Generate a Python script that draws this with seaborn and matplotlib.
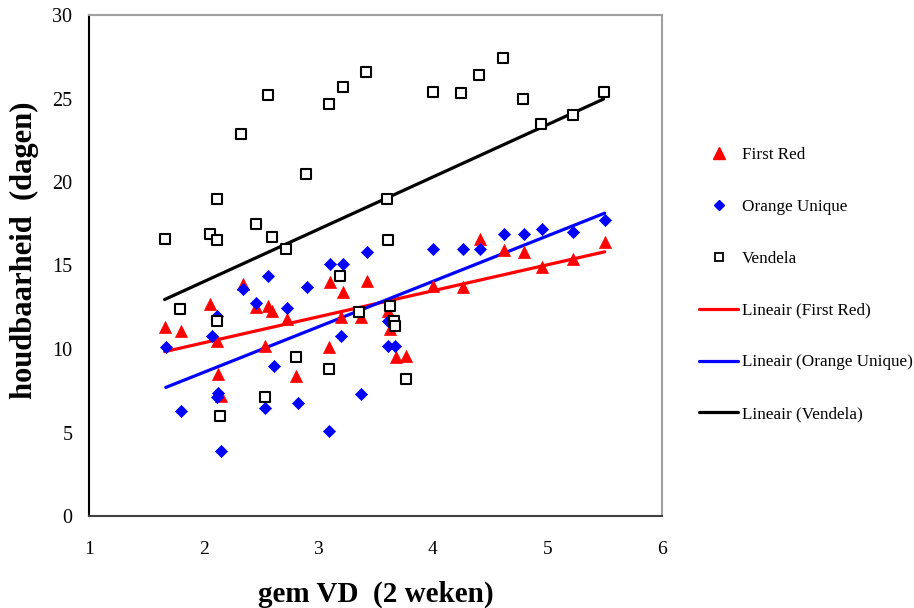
import matplotlib
matplotlib.use("Agg")
import matplotlib.pyplot as plt
import seaborn as sns
import pandas as pd
from matplotlib.lines import Line2D

# ---- data ----
fr_x = [1.66, 1.80, 2.06, 2.12, 2.13, 2.15, 2.34, 2.46, 2.54, 2.56, 2.60, 2.73, 2.81,
        3.09, 3.10, 3.20, 3.22, 3.37, 3.43, 3.61, 3.63, 3.68, 3.77, 4.00, 4.26, 4.41,
        4.62, 4.80, 4.95, 5.22, 5.50]
fr_y = [11.3, 11.1, 12.7, 10.5, 8.5, 7.2, 13.9, 12.5, 10.2, 12.6, 12.3, 11.8, 8.4,
        10.1, 14.0, 11.9, 13.4, 11.9, 14.1, 12.3, 11.2, 9.5, 9.6, 13.8, 13.7, 16.6,
        15.9, 15.8, 14.9, 15.4, 16.4]

ou_x = [1.67, 1.80, 2.07, 2.12, 2.12, 2.13, 2.15, 2.34, 2.46, 2.54, 2.56, 2.61, 2.73,
        2.82, 2.90, 3.09, 3.10, 3.20, 3.22, 3.37, 3.43, 3.61, 3.61, 3.67, 4.00, 4.26,
        4.41, 4.62, 4.80, 4.95, 5.22, 5.50]
ou_y = [10.1, 6.3, 10.8, 12.0, 7.1, 7.35, 3.9, 13.6, 12.75, 6.45, 14.4, 9.0, 12.45,
        6.75, 13.7, 5.1, 15.1, 10.8, 15.1, 7.3, 15.8, 11.7, 10.2, 10.2, 16.0, 16.0,
        16.0, 16.9, 16.9, 17.2, 17.0, 17.7]

ve_x = [1.66, 1.79, 2.06, 2.12, 2.12, 2.12, 2.14, 2.33, 2.46, 2.54, 2.56, 2.60, 2.72,
        2.81, 2.89, 3.09, 3.09, 3.19, 3.22, 3.36, 3.42, 3.60, 3.61, 3.63, 3.66, 3.67,
        3.77, 4.00, 4.25, 4.40, 4.61, 4.79, 4.94, 5.22, 5.49]
ve_y = [16.6, 12.4, 16.9, 19.0, 16.5, 11.7, 6.0, 22.9, 17.5, 7.1, 25.2, 16.7, 16.0,
        9.5, 20.5, 8.8, 24.7, 14.4, 25.7, 12.2, 26.6, 19.0, 16.5, 12.6, 11.7, 11.4,
        8.2, 25.4, 25.3, 26.4, 27.4, 25.0, 23.5, 24.0, 25.4]

series_names = ["First Red", "Orange Unique", "Vendela"]
trend_names = ["Lineair (First Red)", "Lineair (Orange Unique)", "Lineair (Vendela)"]
x_ticks = [1, 2, 3, 4, 5, 6]
y_ticks = [0, 5, 10, 15, 20, 25, 30]

sns.set_theme(style="white")
plt.rcParams["font.family"] = ["Liberation Serif", "DejaVu Serif"]
plt.rcParams["text.color"] = "black"
plt.rcParams["axes.labelcolor"] = "black"

fig = plt.figure(figsize=(9.14, 6.08), dpi=100)
ax = fig.add_axes([89 / 914, 1 - 516 / 608, (662 - 89) / 914, (516 - 15) / 608])

df_fr = pd.DataFrame({"x": fr_x, "y": fr_y})
df_ou = pd.DataFrame({"x": ou_x, "y": ou_y})
df_ve = pd.DataFrame({"x": ve_x, "y": ve_y})

red, blue, black = "#ff0000", "#0000ff", "#000000"
lw = 2.3

# trend lines
sns.regplot(data=df_fr, x="x", y="y", scatter=False, ci=None, ax=ax,
            line_kws=dict(color=red, lw=lw, zorder=2))
sns.regplot(data=df_ou, x="x", y="y", scatter=False, ci=None, ax=ax,
            line_kws=dict(color=blue, lw=lw, zorder=2))
sns.regplot(data=df_ve, x="x", y="y", scatter=False, ci=None, ax=ax,
            line_kws=dict(color=black, lw=lw, zorder=2))

# markers
sns.scatterplot(data=df_fr, x="x", y="y", ax=ax, marker="^", s=75, color=red,
                edgecolor=red, linewidth=0.5, zorder=3)
sns.scatterplot(data=df_ou, x="x", y="y", ax=ax, marker="D", s=38, color=blue,
                edgecolor=blue, linewidth=0.5, zorder=4)
sns.scatterplot(data=df_ve, x="x", y="y", ax=ax, marker="s", s=50, color="white",
                edgecolor="black", linewidth=1.5, zorder=5)

ax.set_xlim(1, 6)
ax.set_ylim(0, 30)
ax.set_xticks(x_ticks)
ax.set_yticks(y_ticks)
ax.set_xticklabels([str(t) for t in x_ticks], fontsize=14)
ax.set_yticklabels([str(t) for t in y_ticks], fontsize=14.5)
ax.tick_params(axis="both", direction="out", length=4, width=1, colors="#404040",
               labelcolor="black", pad=6)
ax.tick_params(axis="x", pad=14)
ax.tick_params(axis="y", colors="black", labelcolor="black", pad=8)

for side, col in [("left", "black"), ("bottom", "#404040"),
                  ("top", "#a0a0a0"), ("right", "#a0a0a0")]:
    ax.spines[side].set_visible(True)
    ax.spines[side].set_color(col)
    ax.spines[side].set_linewidth(1.5)

ax.set_xlabel("gem VD  (2 weken)", fontsize=21, fontweight="bold", labelpad=16,
              color="black")
ax.set_ylabel("houdbaarheid  (dagen)", fontsize=22, fontweight="bold", labelpad=8,
              color="black")
ax.yaxis.set_label_coords(-0.087, (516 - 250) / 501)
ax.grid(False)

handles = [
    Line2D([], [], ls="none", marker="^", color=red, markersize=8),
    Line2D([], [], ls="none", marker="D", color=blue, markersize=5.5),
    Line2D([], [], ls="none", marker="s", markerfacecolor="white",
           markeredgecolor="black", markeredgewidth=1.3, markersize=6),
    Line2D([], [], color=red, lw=lw),
    Line2D([], [], color=blue, lw=lw),
    Line2D([], [], color=black, lw=lw),
]
labels = series_names + trend_names
fig.legend(handles, labels, loc="upper left", bbox_to_anchor=(699 / 914, 1 - 147 / 608),
           frameon=False, fontsize=12.3, labelspacing=2.1, handlelength=2.3,
           handletextpad=0.2, borderpad=0, borderaxespad=0)

fig.savefig("out.png", dpi=100)
